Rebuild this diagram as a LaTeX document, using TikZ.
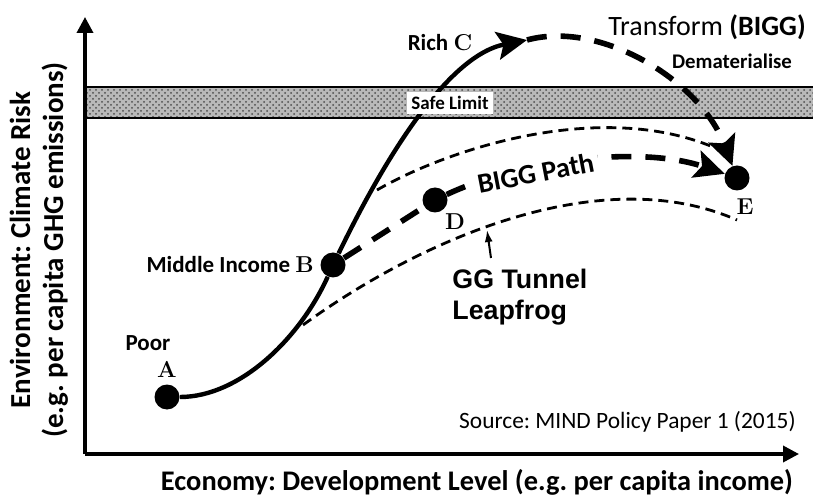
\documentclass[tikz,border=0pt]{standalone}
\usepackage{fontspec}
\setsansfont{Carlito}
\newfontfamily\arialfont{Liberation Sans}
\frenchspacing
\usetikzlibrary{arrows.meta,positioning,patterns}
\tikzset{%
  axisline/.style = {line width=1.8pt, -{Triangle[length=8pt,width=8pt]}},%
  dot/.style      = {circle, fill=black, inner sep=0pt, minimum size=12.5pt},%
  letter/.style   = {inner sep=0pt, font=\rmfamily\bfseries\fontsize{11.5}{12}\selectfont},%
  lbl/.style      = {inner sep=0pt, font=\sffamily\bfseries\fontsize{11.5}{13}\selectfont},%
  growth/.style   = {line width=2.2pt},%
  bigg/.style     = {line width=2.8pt, dash pattern=on 10pt off 7pt},%
  tunnel/.style   = {line width=1.4pt, dash pattern=on 5pt off 3pt},%
  bigtip/.style   = {-{Stealth[length=15pt,width=14pt,inset=3pt]}},%
  band/.style     = {fill=gray!55, postaction={pattern=crosshatch dots, pattern color=black!70}}%
}
\begin{document}
\begin{tikzpicture}[x=0.5pt, y=0.5pt]
  \useasboundingbox (0,0) rectangle (813,498);
  % -------------- SAFE LIMIT BAND ----------------------------------------
  \fill[band] (87,380) rectangle (830,411);
  \draw[line width=1pt] (87,411) -- (830,411) (87,380) -- (830,380);
  % -------------- AXES ---------------------------------------------------
  \coordinate (origin) at (85,44);
  \coordinate (ytip) at (85,481);
  \coordinate (xtip) at (799,44);
  \draw[axisline] (origin) -- (ytip);
  \draw[axisline] (origin) -- (xtip);
  \node[lbl, rotate=90, align=center, font=\sffamily\bfseries\fontsize{14.5}{16.5}\selectfont]
    (ylab) at (39,248) {Environment: Climate Risk\\(e.g. per capita GHG emissions)};
  \node[lbl, font=\sffamily\bfseries\fontsize{14.2}{16}\selectfont]
    (xlab) at (477,16) {Economy: Development Level (e.g. per capita income)};
  \node[lbl, anchor=east, font=\sffamily\fontsize{11.7}{13}\selectfont]
    (source) at (796,76) {Source: MIND Policy Paper 1 (2015)};
  % -------------- STAGES -------------------------------------------------
  \node[dot] (A) at (167,101) {};
  \node[dot] (B) at (333,233) {};
  \node[dot] (D) at (435,298) {};
  \node[dot] (E) at (737,320) {};
  \coordinate (C) at (527,458);
  \node[letter, above=3pt of A] (Alab) {A};
  \node[lbl] (poor) at (148,155) {Poor};
  \node[lbl, left=3pt of B] (Blab) {Middle Income {\rmfamily B}};
  \node[letter] (Dlab) at (455,276) {D};
  \node[letter] (Elab) at (745,291) {E};
  \node[lbl] (rich) at (440,455) {Rich {\rmfamily C}};
  \node[lbl, font=\sffamily\fontsize{14}{16}\selectfont] (transform) at (707,471)
    {Transform {\bfseries(BIGG)}};
  \node[lbl, font=\sffamily\bfseries\fontsize{10.4}{12}\selectfont] (demat) at (732,437)
    {Dematerialise};
  % -------------- GROWTH PATH AND BIGG PATH ------------------------------
  \draw[growth, bigtip]
    (A) .. controls (240,101) and (300,160) .. (B)
        .. controls (380,330) and (445,442) .. (C);
  \draw[bigg, bigtip] (C) .. controls (600,478) and (700,418) .. (E);
  \draw[bigg] (B) -- (D);
  \draw[bigg, bigtip] (D) .. controls (520,338) and (640,353) .. (E)
    node[pos=.34, sloped, fill=white, inner sep=2.5pt, yshift=-3pt,
         font=\sffamily\bfseries\fontsize{14}{16}\selectfont] (biggtxt) {BIGG Path};
  \node[lbl, fill=white, inner sep=2pt, font=\sffamily\bfseries\fontsize{9.5}{11}\selectfont]
    (safe) at (450,395) {Safe Limit};
  % -------------- GG TUNNEL ----------------------------------------------
  \coordinate (tunup) at (377,308);
  \coordinate (tunupend) at (713,351);
  \coordinate (tunlow) at (303,173);
  \coordinate (tunlowend) at (737,278);
  \draw[tunnel] (tunup) .. controls (450,350) and (600,398) .. (tunupend);
  \draw[tunnel] (tunlow) .. controls (420,258) and (600,338) .. (tunlowend);
  \node[lbl, anchor=north west, align=left, font=\arialfont\bfseries\fontsize{13.4}{15.5}\selectfont]
    (ggtxt) at (452,229) {GG Tunnel\\Leapfrog};
  \coordinate (ggfoot) at (491,240);
  \coordinate (ggtip) at (487,268);
  \draw[line width=1pt, -{Latex[length=6pt,width=4pt]}] (ggfoot) -- (ggtip);
\end{tikzpicture}
\end{document}
